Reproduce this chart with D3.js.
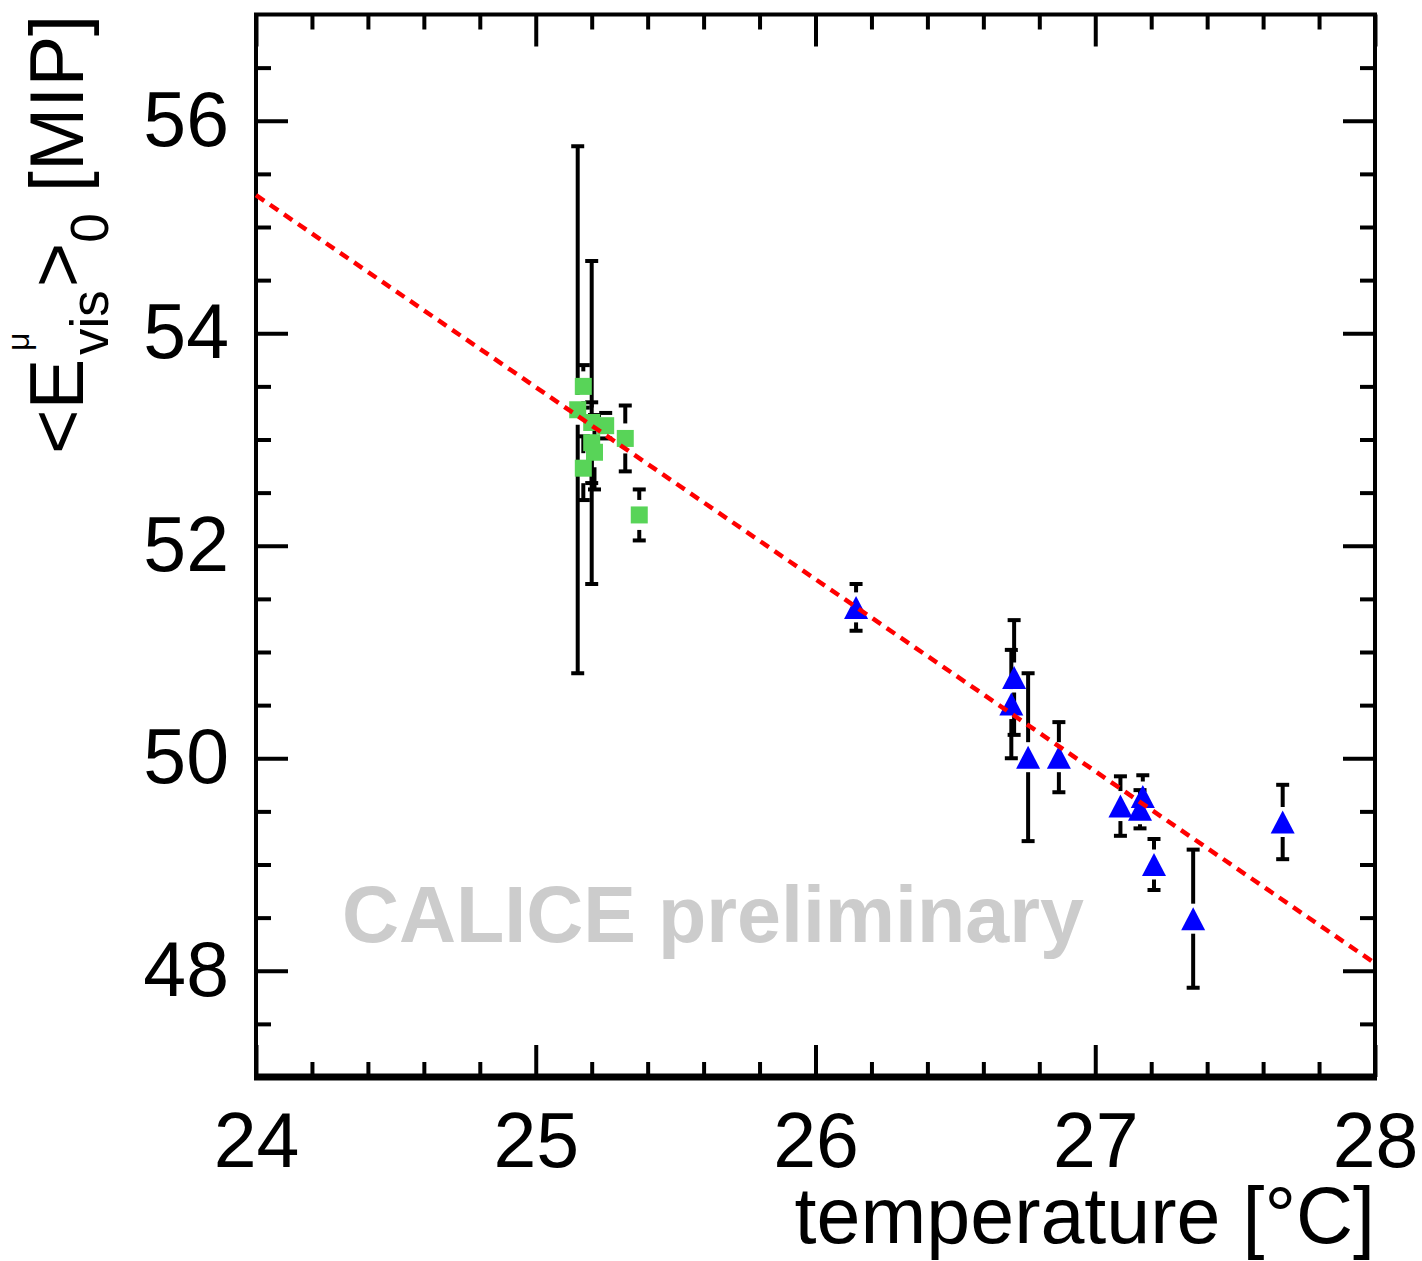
<!DOCTYPE html>
<html lang="en">
<head>
  <meta charset="utf-8">
  <title>Visible muon energy vs temperature</title>
  <script src="https://cdn.jsdelivr.net/npm/d3@7"></script>
  <style>
    body { margin: 0; background: #fff; }
    text { font-family: "Liberation Sans", Arial, Helvetica, sans-serif; }
  </style>
</head>
<body>
  <script>
    // green squares (first run period)
    const greenT = [25.15, 25.20, 25.17, 25.25, 25.20, 25.21, 25.17, 25.32, 25.37];
    const greenE = [53.28, 53.16, 53.50, 53.13, 52.97, 52.88, 52.73, 53.01, 52.29];
    const greenErr = [2.48, 1.52, 0.20, 0.12, 0.38, 0.35, 0.30, 0.31, 0.24];
    // blue triangles (second run period)
    const blueT = [26.145, 26.71, 26.70, 26.76, 26.87, 27.09, 27.17, 27.16, 27.21, 27.35, 27.67];
    const blueE = [51.42, 50.76, 50.51, 50.01, 50.01, 49.55, 49.64, 49.52, 49.00, 48.49, 49.40];
    const blueErr = [0.22, 0.54, 0.51, 0.79, 0.33, 0.28, 0.20, 0.18, 0.24, 0.65, 0.35];
    // linear fit, end points
    const fitT = [24, 28];
    const fitE = [55.30, 48.07];
    // axes
    const xMajorTicks = [24, 25, 26, 27, 28];
    const yMajorTicks = [48, 50, 52, 54, 56];

    let width = 1422, height = 1261;
    let frame = { left: 256, right: 1375, top: 14.5, bottom: 1077 };
    let gap = 15; // error bar is not drawn inside the marker

    let svg = d3.select("body").append("svg")
      .attr("width", width)
      .attr("height", height);
    svg.append("rect").attr("width", width).attr("height", height).attr("fill", "#fff");

    let x = d3.scaleLinear().domain([24, 28]).range([frame.left, frame.right]);
    let y = d3.scaleLinear().domain([47, 57]).range([frame.bottom, frame.top]);

    let xMinor = d3.range(24.2, 28, 0.2).filter(v => Math.abs(v - Math.round(v)) > 0.01);
    let yMinor = d3.range(47.5, 57, 0.5).filter(v => Math.abs(v / 2 - Math.round(v / 2)) > 0.01);

    function styleAxis(g, labels) {
      g.select(".domain").remove();
      g.selectAll("line").attr("stroke", "#000").attr("stroke-width", 4);
      if (!labels) g.selectAll("text").remove();
      else g.selectAll("text").attr("fill", "#000").attr("font-size", 77)
        .attr("font-family", "'Liberation Sans', Arial, sans-serif");
    }

    // bottom axis with labels
    svg.append("g").attr("transform", `translate(0, ${frame.bottom})`)
      .call(d3.axisBottom(x).tickValues(xMajorTicks).tickSize(-32).tickPadding(35).tickFormat(d3.format("d")))
      .call(g => styleAxis(g, true));
    svg.append("g").attr("transform", `translate(0, ${frame.bottom})`)
      .call(d3.axisBottom(x).tickValues(xMinor).tickSize(-15).tickFormat(""))
      .call(g => styleAxis(g, false));
    // top axis
    svg.append("g").attr("transform", `translate(0, ${frame.top})`)
      .call(d3.axisTop(x).tickValues(xMajorTicks).tickSize(-32).tickFormat(""))
      .call(g => styleAxis(g, false));
    svg.append("g").attr("transform", `translate(0, ${frame.top})`)
      .call(d3.axisTop(x).tickValues(xMinor).tickSize(-15).tickFormat(""))
      .call(g => styleAxis(g, false));
    // left axis with labels
    svg.append("g").attr("transform", `translate(${frame.left}, 0)`)
      .call(d3.axisLeft(y).tickValues(yMajorTicks).tickSize(-32).tickPadding(27).tickFormat(d3.format("d")))
      .call(g => styleAxis(g, true));
    svg.append("g").attr("transform", `translate(${frame.left}, 0)`)
      .call(d3.axisLeft(y).tickValues(yMinor).tickSize(-15).tickFormat(""))
      .call(g => styleAxis(g, false));
    // right axis
    svg.append("g").attr("transform", `translate(${frame.right}, 0)`)
      .call(d3.axisRight(y).tickValues(yMajorTicks).tickSize(-32).tickFormat(""))
      .call(g => styleAxis(g, false));
    svg.append("g").attr("transform", `translate(${frame.right}, 0)`)
      .call(d3.axisRight(y).tickValues(yMinor).tickSize(-15).tickFormat(""))
      .call(g => styleAxis(g, false));

    // frame
    svg.append("rect")
      .attr("x", frame.left).attr("y", frame.top)
      .attr("width", frame.right - frame.left).attr("height", frame.bottom - frame.top)
      .attr("fill", "none").attr("stroke", "#000").attr("stroke-width", 4);
    svg.append("line")
      .attr("x1", frame.left - 2).attr("x2", frame.right + 2)
      .attr("y1", frame.bottom).attr("y2", frame.bottom)
      .attr("stroke", "#000").attr("stroke-width", 7);

    // watermark
    svg.append("text")
      .attr("x", 342).attr("y", 942)
      .attr("font-size", 79).attr("font-weight", "bold")
      .attr("fill", "#cccccc")
      .text("CALICE preliminary");

    // error bars
    function drawErrors(ts, es, errs) {
      let pts = ts.map((t, i) => ({ t: t, e: es[i], err: errs[i] }));
      let g = svg.append("g").attr("stroke", "#000").attr("stroke-width", 4);
      pts.forEach(d => {
        let cx = x(d.t), cy = y(d.e);
        let top = y(d.e + d.err), bot = y(d.e - d.err);
        if (cy - gap > top) g.append("line").attr("x1", cx).attr("x2", cx).attr("y1", top).attr("y2", cy - gap);
        if (cy + gap < bot) g.append("line").attr("x1", cx).attr("x2", cx).attr("y1", cy + gap).attr("y2", bot);
        g.append("line").attr("x1", cx - 6.5).attr("x2", cx + 6.5).attr("y1", top).attr("y2", top);
        g.append("line").attr("x1", cx - 6.5).attr("x2", cx + 6.5).attr("y1", bot).attr("y2", bot);
      });
      return pts;
    }
    let greenPts = drawErrors(greenT, greenE, greenErr);
    let bluePts = drawErrors(blueT, blueE, blueErr);

    // markers
    svg.append("g").selectAll("path").data(greenPts).join("path")
      .attr("d", d3.symbol(d3.symbolSquare, 17 * 17))
      .attr("transform", d => `translate(${x(d.t)}, ${y(d.e)})`)
      .attr("fill", "#58d458");

    let rootTriangle = {
      draw(context, size) {
        let h = Math.sqrt(size);
        context.moveTo(0, -h / 2);
        context.lineTo(h / 2 + 0.5, h / 2);
        context.lineTo(-h / 2 - 0.5, h / 2);
        context.closePath();
      }
    };
    svg.append("g").selectAll("path").data(bluePts).join("path")
      .attr("d", d3.symbol(rootTriangle, 23 * 23))
      .attr("transform", d => `translate(${x(d.t)}, ${y(d.e)})`)
      .attr("fill", "#0000ff");

    // fit line
    let fitLine = d3.line().x(d => x(d[0])).y(d => y(d[1]));
    svg.append("path")
      .attr("d", fitLine(fitT.map((t, i) => [t, fitE[i]])))
      .attr("fill", "none")
      .attr("stroke", "#ff0000")
      .attr("stroke-width", 4.5)
      .attr("stroke-dasharray", "10,7");

    // x title
    svg.append("text")
      .attr("x", frame.right).attr("y", 1243)
      .attr("text-anchor", "end")
      .attr("font-size", 79)
      .text("temperature [°C]");

    // y title, rotated, built piece by piece
    let yTitle = svg.append("g").attr("transform", "translate(83, 454) rotate(-90)");
    let pos = 0;
    let t1 = yTitle.append("text").attr("x", pos).attr("y", 0).attr("font-size", 76).text("<E");
    pos += t1.node().getComputedTextLength() + 4;
    let mu = yTitle.append("text").attr("x", pos + 4).attr("y", -54).attr("font-size", 32)
      .attr("font-family", "'Liberation Serif', 'DejaVu Serif', serif").text("μ");
    let vis = yTitle.append("text").attr("x", pos).attr("y", 25).attr("font-size", 53).text("vis");
    pos += Math.max(mu.node().getComputedTextLength(), vis.node().getComputedTextLength()) + 3;
    let gt = yTitle.append("text").attr("x", pos).attr("y", 0).attr("font-size", 76).text(">");
    pos += gt.node().getComputedTextLength();
    let zero = yTitle.append("text").attr("x", pos).attr("y", 25).attr("font-size", 53).text("0");
    pos += zero.node().getComputedTextLength();
    yTitle.append("text").attr("x", pos).attr("y", 0).attr("font-size", 76)
      .attr("xml:space", "preserve").style("white-space", "pre").text(" [MIP]");
  </script>
</body>
</html>
